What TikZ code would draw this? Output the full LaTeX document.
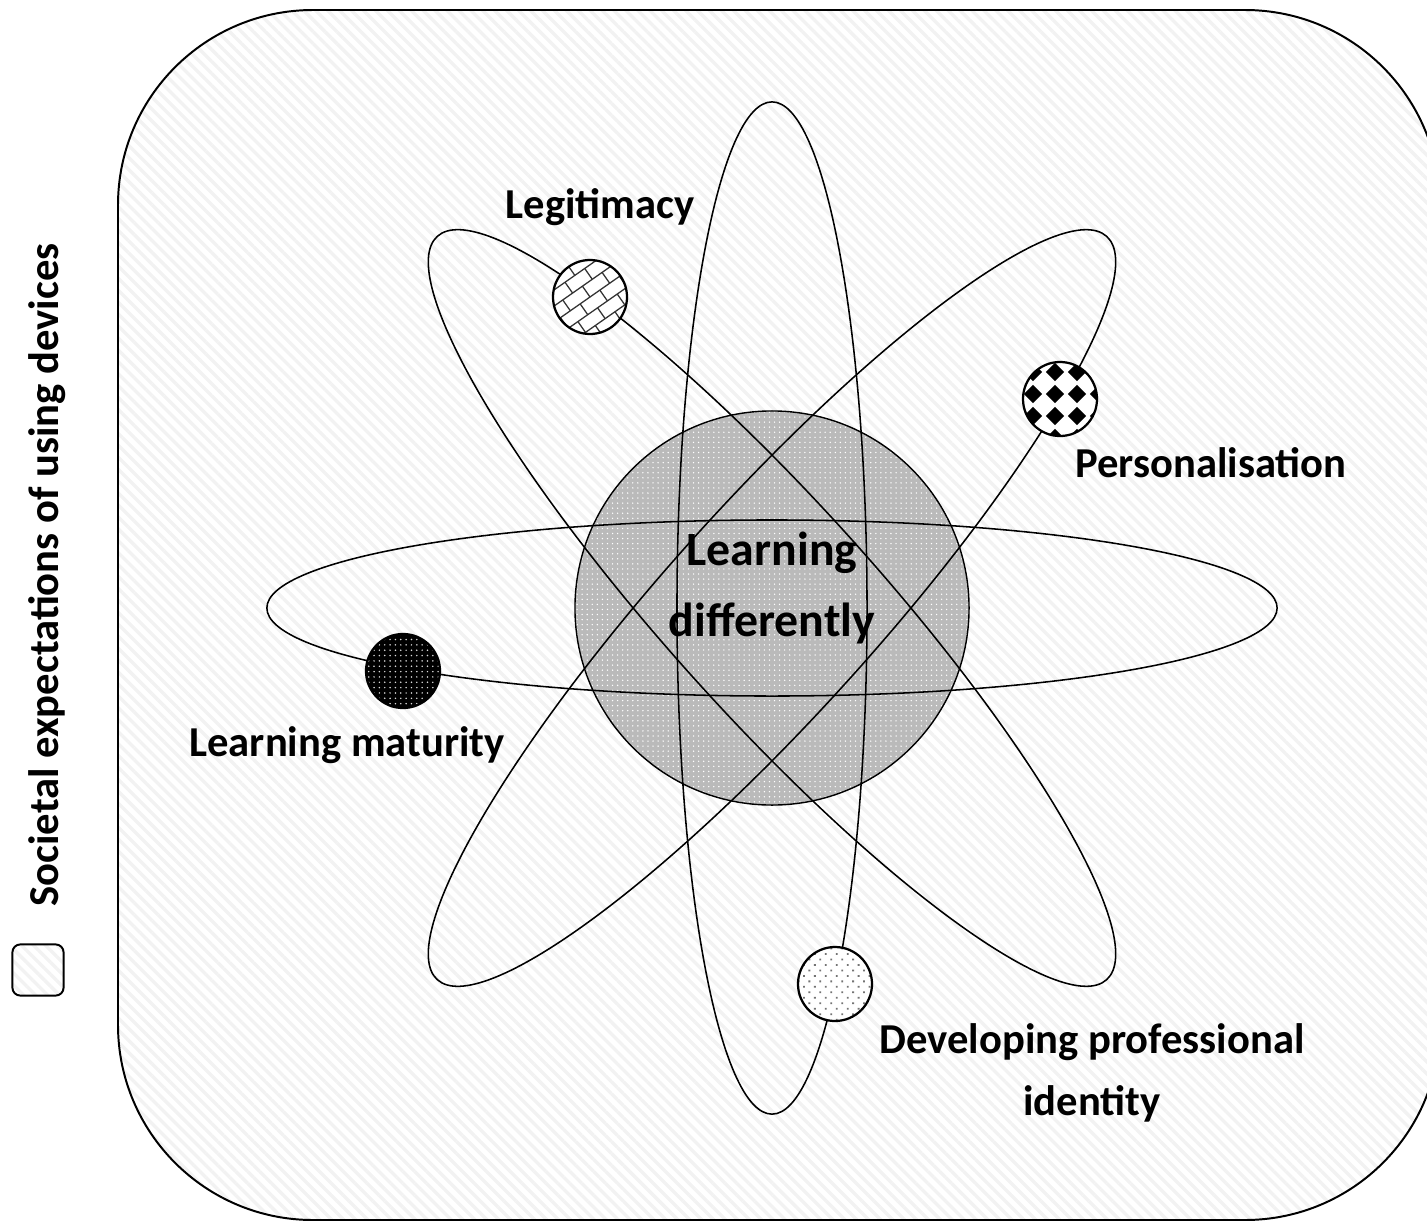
\documentclass[tikz,border=0pt]{standalone}
\usepackage{fontspec}
\setmainfont{Carlito}
\usetikzlibrary{patterns,patterns.meta}
\tikzset{
  hatch/.style={pattern={Lines[angle=-45,distance=6pt,line width=2.4pt]}, pattern color=black!5},
  orbit/.style={draw=black, line width=1.1pt},
  planet/.style={circle, draw=black, line width=1.6pt, minimum size=1.85cm, inner sep=0pt},
  brickline/.style={draw=black!80, line width=0.9pt},
  lbl/.style={font=\fontsize{30.3}{44}\selectfont\bfseries, text=black, align=center},
}
\begin{document}
\begin{tikzpicture}[x=0.025cm,y=-0.025cm]
\useasboundingbox (0,0) rectangle (1427,1222);
\clip (0,0) rectangle (1427,1222);
% frame
\draw[line width=1.4pt, rounded corners=4.875cm, hatch] (118,10) rectangle (1440,1220);
% legend key
\node[draw, line width=1.4pt, rounded corners=0.2cm, minimum size=1.28cm, inner sep=0pt, hatch] (key) at (38,970) {};
\node[lbl, rotate=90] (tsoc) at (47,575) {Societal expectations of using devices};
% core
\coordinate (c) at (772,608);
\node[circle, draw=black, line width=1pt, minimum size=9.85cm, inner sep=0pt,
      preaction={fill=black!27}, pattern={Dots[distance=3.6pt,radius=0.55pt]}, pattern color=white] (core) at (c) {};
% orbits
\draw[orbit] (c) ellipse [x radius=12.625cm, y radius=2.2cm];
\draw[orbit] (c) ellipse [x radius=2.375cm, y radius=12.65cm];
\draw[orbit, rotate around={-48:(c)}] (c) ellipse [x radius=12.5cm, y radius=2.625cm];
\draw[orbit, rotate around={48:(c)}] (c) ellipse [x radius=12.5cm, y radius=2.625cm];
% Legitimacy bricks
\begin{scope}
  \clip (590,297) circle [radius=0.925cm];
  \fill[white] (590,297) circle [radius=0.925cm];
  \begin{scope}[shift={(590,297)}, rotate=35]
    \foreach \r in {-4,...,4} {
      \pgfmathsetmacro{\off}{mod(\r+10,2)*0.3}
      \draw[brickline] ({-2cm},{\r*0.33cm}) -- ({2cm},{\r*0.33cm});
      \foreach \k in {-4,...,4} {
        \draw[brickline] ({(\k*0.6+\off)*1cm},{\r*0.33cm}) -- ({(\k*0.6+\off)*1cm},{(\r*0.33+0.33)*1cm});
      }
    }
  \end{scope}
\end{scope}
% Personalisation diamonds
\begin{scope}
  \clip (1060,399) circle [radius=0.925cm];
  \fill[white] (1060,399) circle [radius=0.925cm];
  \begin{scope}[shift={(1055,394)}]
    \foreach \i in {-2,...,2} {
      \foreach \j in {-2,...,2} {
        \fill[black] ({\i*0.55cm+0.23cm},{\j*0.55cm}) -- ({\i*0.55cm},{\j*0.55cm+0.23cm}) -- ({\i*0.55cm-0.23cm},{\j*0.55cm}) -- ({\i*0.55cm},{\j*0.55cm-0.23cm}) -- cycle;
      }
    }
  \end{scope}
\end{scope}
% planets
\node[planet] (leg) at (590,297) {};
\node[planet] (pers) at (1060,399) {};
\node[planet, preaction={fill=black}, pattern={Dots[distance=3.8pt,radius=0.6pt]}, pattern color=white!85!black] (mat) at (403,671) {};
\node[planet, preaction={fill=white}, pattern={Dots[angle=45,distance=5.5pt,radius=0.9pt]}, pattern color=black!55] (dev) at (835,984) {};
% labels
\node[lbl] (tleg) at (600,207) {Legitimacy};
\node[lbl] (tpers) at (1211,463) {Personalisation};
\node[lbl] (tmat) at (347,745) {Learning maturity};
\node[lbl] (tdev) at (1092,1073) {Developing professional\\identity};
\node[lbl, font=\fontsize{34}{50}\selectfont\bfseries] (tcore) at (772,588) {Learning\\differently};
\end{tikzpicture}
\end{document}
